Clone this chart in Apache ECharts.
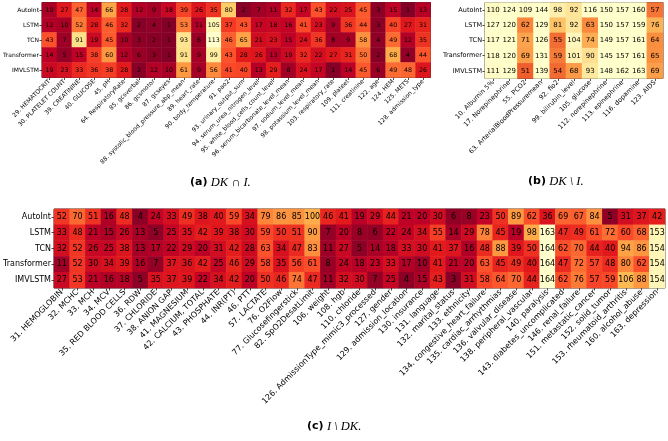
<!DOCTYPE html>
<html><head><meta charset="utf-8">
<script src="https://cdn.jsdelivr.net/npm/echarts@6/dist/echarts.min.js"></script>
<style>html,body{margin:0;padding:0;background:#fff}#c{width:668px;height:441px}</style>
</head><body><div id="c"></div>
<script>
const models = ['AutoInt','LSTM','TCN','Transformer','IMVLSTM'];

const catsA = ['29. HEMATOCRIT','30. PLATELET COUNT','39. CREATININE','40. GLUCOSE','45. pH','64. RespiratoryRate','85. gcsverbal','86. gcsmotor','87. gcseyes','88. systolic_blood_pressure_abp_mean','89. heart_rate','90. body_temperature','91. pao2','93. urinary_output_sum','94. serum_urea_nitrogen_level','95. white_blood_cells_count_level','96. serum_bicarbonate_level_mean','97. sodium_level_mean','98. potassium_level_mean','103. respiratory_rate','109. plateet','111. creatinine','122. age','124. HEM','125. METS','128. admission_type'];
const valsA_AutoInt     = [10,27,47,14,66,28,12,9,18,39,26,35,80,2,7,11,32,17,43,22,25,45,3,15,1,13];
const valsA_LSTM        = [12,10,52,28,46,32,2,4,1,53,11,105,37,43,17,18,16,41,23,9,36,44,3,40,27,31];
const valsA_TCN         = [43,7,91,19,45,10,3,2,1,93,6,113,46,65,21,23,15,24,36,8,9,58,4,49,12,35];
const valsA_Transformer = [14,5,15,38,60,12,6,3,1,91,9,99,43,28,26,13,19,32,22,27,31,50,2,68,4,44];
const valsA_IMVLSTM     = [19,23,33,36,38,28,2,12,10,61,9,56,41,40,13,29,8,24,17,1,14,45,6,49,48,26];

const catsB = ['10. Albumin 5%','17. Norepinephrine','55. PCO2','63. ArterialBloodPressuremean','92. fio2','99. bilirubin_level','105. glucose','112. norepinephrine','113. epinephrine','116. dopamine','123. AIDS'];
const valsB_AutoInt     = [110,124,109,144,98,92,116,150,157,160,57];
const valsB_LSTM        = [127,120,62,129,81,92,63,150,157,159,76];
const valsB_TCN         = [117,121,71,126,55,104,74,149,157,161,64];
const valsB_Transformer = [118,120,69,131,59,101,90,145,157,161,65];
const valsB_IMVLSTM     = [111,129,51,139,54,68,93,148,162,163,69];

const catsC = ['31. HEMOGLOBIN','32. MCHC','33. MCH','34. MCV','35. RED BLOOD CELLS','36. RDW','37. CHLORIDE','38. ANION GAP','41. MAGNESIUM','42. CALCIUM, TOTAL','43. PHOSPHATE','44. INR(PT)','46. PTT','57. LACTATE','76. O2Flow','77. Glucosefingerstick','82. SpO2DesatLimit','106. weight','108. hgb','110. chloride','126. AdmissionType_mimic3_processed','127. gender','129. admission_location','130. insurance','131. language','132. marital_status','133. ethnicity','134. congestive_heart_failure','135. cardiac_arrhythmias','136. valvular_disease','138. peripheral_vascular','140. paralysis','143. diabetes_uncomplicated','146. renal_failure','151. metastatic_cancer','152. solid_tumor','153. rheumatoid_arthritis','160. alcohol_abuse','163. depression'];
const valsC_AutoInt     = [52,70,51,16,48,4,24,33,49,38,40,59,34,79,86,85,100,46,41,19,29,44,21,20,30,6,8,23,50,89,62,36,69,67,84,5,31,37,42];
const valsC_LSTM        = [33,48,21,15,26,13,5,25,35,42,39,38,30,59,50,51,90,7,20,8,6,22,24,34,55,14,29,78,45,19,98,163,47,49,61,72,60,68,153];
const valsC_TCN         = [32,52,26,25,38,13,17,22,29,20,31,42,28,63,34,47,83,11,27,5,14,18,33,30,41,37,16,48,88,39,50,164,62,70,44,40,94,86,154];
const valsC_Transformer = [11,52,30,34,39,16,7,37,36,42,25,46,29,58,35,56,61,8,24,18,23,33,17,10,41,21,20,63,45,49,40,164,47,72,57,48,80,62,154];
const valsC_IMVLSTM     = [27,53,21,16,18,5,35,37,39,22,34,42,20,50,46,74,47,11,32,30,7,25,4,15,43,3,31,58,64,70,44,164,62,76,57,59,106,88,154];

function toData(rows){
  const out=[];
  rows.forEach((r,i)=>r.forEach((v,j)=>out.push([j,i,v])));
  return out;
}
const dataA = toData([valsA_AutoInt,valsA_LSTM,valsA_TCN,valsA_Transformer,valsA_IMVLSTM]);
const dataB = toData([valsB_AutoInt,valsB_LSTM,valsB_TCN,valsB_Transformer,valsB_IMVLSTM]);
const dataC = toData([valsC_AutoInt,valsC_LSTM,valsC_TCN,valsC_Transformer,valsC_IMVLSTM]);

const YlOrRd_r = ['#800026','#bd0026','#e31a1c','#fc4e2a','#fd8d3c','#feb24c','#fed976','#ffeda0','#ffffcc'];
const FF = 'DejaVu Sans';

function xAx(idx, cats, fs){
  return {type:'category', gridIndex:idx, data:cats, position:'bottom',
    axisLine:{show:false}, axisTick:{show:true, alignWithLabel:true, length:2.5, lineStyle:{color:'#000',width:0.7}},
    axisLabel:{rotate:45, fontSize:fs, fontFamily:FF, color:'#000', margin:3, interval:0}, splitLine:{show:false}};
}
function yAx(idx, fs){
  return {type:'category', gridIndex:idx, data:models, inverse:true,
    axisLine:{show:false}, axisTick:{show:true, alignWithLabel:true, length:2.5, lineStyle:{color:'#000',width:0.7}},
    axisLabel:{fontSize:fs, fontFamily:FF, color:'#000', margin:3}, splitLine:{show:false}};
}
function hm(idx, data, fs){
  return {type:'heatmap', xAxisIndex:idx, yAxisIndex:idx, data:data,
    label:{show:true, fontSize:fs, fontFamily:FF, color:'#000', formatter:p=>p.value[2]},
    itemStyle:{borderWidth:0}, emphasis:{disabled:true}};
}
function cap(letter, math, x, y){
  return {type:'text', left:x, top:y, style:{
    text:'{b|('+letter+')} {i|'+math+'}', textAlign:'center',
    rich:{b:{fontFamily:FF, fontWeight:'bold', fontSize:11, fill:'#000'}, i:{fontFamily:'Liberation Serif', fontStyle:'italic', fontSize:12.5, fill:'#000'}}}};
}

const chart = echarts.init(document.getElementById('c'), null, {renderer:'canvas'});
chart.setOption({
  animation:false,
  backgroundColor:'#fff',
  grid:[
    {left:40.5, top:2.5, width:390, height:75, show:true, borderColor:'#000', borderWidth:0.8},
    {left:485, top:2.5, width:178, height:76, show:true, borderColor:'#000', borderWidth:0.8},
    {left:53, top:209, width:612, height:79, show:true, borderColor:'#000', borderWidth:0.8}
  ],
  xAxis:[xAx(0,catsA,6), xAx(1,catsB,6.5), xAx(2,catsC,8)],
  yAxis:[yAx(0,6), yAx(1,6.5), yAx(2,8)],
  visualMap:[
    {type:'continuous', show:false, seriesIndex:0, min:0, max:113, inRange:{color:YlOrRd_r}},
    {type:'continuous', show:false, seriesIndex:1, min:50, max:165, inRange:{color:['#f05a2c','#fa8f40','#fdbb5c','#fee89e','#fffac4','#ffffcc','#ffffcc','#ffffcc','#ffffcc']}},
    {type:'continuous', show:false, seriesIndex:2, min:0, max:164, inRange:{color:YlOrRd_r}}
  ],
  series:[hm(0,dataA,6.3), hm(1,dataB,7), hm(2,dataC,8)],
  graphic:[cap('a','DK ∩ I.',190,176), cap('b','DK \\ I.',528,175), cap('c','I \\ DK.',307,420)]
});
</script></body></html>
